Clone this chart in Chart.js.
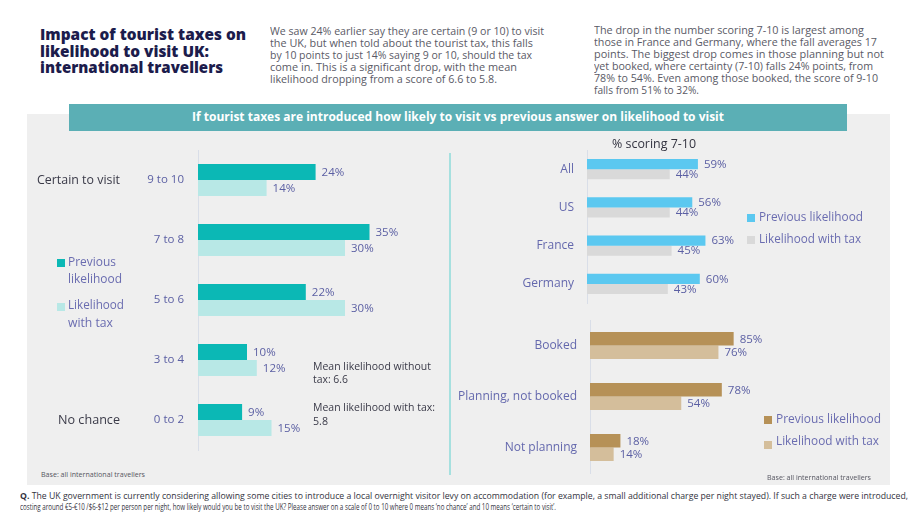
<!DOCTYPE html>
<html><head><meta charset="utf-8">
<script src="https://cdn.jsdelivr.net/npm/chart.js@4.4.1/dist/chart.umd.min.js"></script>
<style>
html,body{margin:0;padding:0;background:#fff;}
#page{position:relative;width:920px;height:518px;overflow:hidden;background:#fff;font-family:'Open Sans',sans-serif;}
.abs{position:absolute;}
.ln{position:absolute;white-space:nowrap;transform-origin:0 50%;}
canvas{position:absolute;}
</style></head><body><div id="page">
<div class="abs" style="left:27px;top:114px;width:863px;height:371px;background:#efefef"></div>
<div class="abs" style="left:69px;top:104px;width:778px;height:27px;background:#5BAFB5"></div>
<div class="abs" style="left:449px;top:153px;width:2px;height:322px;background:#A6E0DF"></div>
<div class="abs" style="left:57px;top:259px;width:8px;height:8px;background:#0BB8B5"></div>
<div class="abs" style="left:57px;top:303px;width:8px;height:8px;background:#B8E8E6"></div>
<div class="abs" style="left:747px;top:214px;width:8px;height:8px;background:#5BC8F0"></div>
<div class="abs" style="left:747px;top:236px;width:8px;height:8px;background:#D9D9D9"></div>
<div class="abs" style="left:764px;top:416px;width:8px;height:8px;background:#B69157"></div>
<div class="abs" style="left:764px;top:441px;width:8px;height:8px;background:#D4BE9B"></div>
<canvas id="c1" width="350" height="320" style="left:100px;top:140px"></canvas>
<canvas id="c2" width="400" height="170" style="left:450px;top:140px"></canvas>
<canvas id="c3" width="400" height="175" style="left:450px;top:310px"></canvas>
</div>
<script>
// ---- data ----
const scoreCats = ['9 to 10', '7 to 8', '5 to 6', '3 to 4', '0 to 2'];
const scorePrev = [24, 35, 22, 10, 9];
const scoreTax = [14, 30, 30, 12, 15];
const countryCats = ['All', 'US', 'France', 'Germany'];
const countryPrev = [59, 56, 63, 60];
const countryTax = [44, 44, 45, 43];
const stageCats = ['Booked', 'Planning, not booked', 'Not planning'];
const stagePrev = [85, 78, 18];
const stageTax = [76, 54, 14];
const seriesNames = ['Previous likelihood', 'Likelihood with tax'];

// ---- text ----
const page = document.getElementById('page');
function L(html, x, cy, w, fs, weight, color, family) {
  const d = document.createElement('div');
  d.className = 'ln';
  const lh = Math.round(fs * 1.25);
  d.style.cssText += `left:${x}px;top:${cy - lh / 2 - fs * 0.1}px;font-size:${fs}px;line-height:${lh}px;font-weight:${weight};color:${color};font-family:${family || "'Open Sans',sans-serif"};`;
  d.innerHTML = html;
  page.appendChild(d);
  if (w) {
    const r = d.getBoundingClientRect().width;
    d.style.transform = `scaleX(${w / r})`;
  }
  return d;
}
const NAVY = '#1C1C4C', PARA = '#5a5a66', LAB = '#5B5FA3', DARK = '#3a3a48';
L('Impact of tourist taxes on', 40, 35.5, 206, 16.5, 800, NAVY);
L('likelihood to visit UK:', 40, 52, 169, 16.5, 800, NAVY);
L('international travellers', 40, 68, 183, 16.5, 800, NAVY);

const p1 = ['We saw 24% earlier say they are certain (9 or 10) to visit',
  'the UK, but when told about the tourist tax, this falls',
  'by 10 points to just 14% saying 9 or 10, should the tax',
  'come in. This is a significant drop, with the mean',
  'likelihood dropping from a score of 6.6 to 5.8.'];
const p1w = [274, 263, 262, 247, 227];
p1.forEach((t, i) => L(t, 270, 32.5 + i * 12, p1w[i], 10.5, 400, PARA));
const p2 = ['The drop in the number scoring 7-10 is largest among',
  'those in France and Germany, where the fall averages 17',
  'points. The biggest drop comes in those planning but not',
  'yet booked, where certainty (7-10) falls 24% points, from',
  '78% to 54%. Even among those booked, the score of 9-10',
  'falls from 51% to 32%.'];
const p2w = [270, 283, 290, 279, 284, 105];
p2.forEach((t, i) => L(t, 594, 31.5 + i * 12, p2w[i], 10.5, 400, PARA));

L('If tourist taxes are introduced how likely to visit vs previous answer on likelihood to visit', 192, 117.5, 532, 12, 700, '#ffffff');
L('% scoring 7-10', 612, 145, 84, 12, 400, '#333340');

L('Certain to visit', 37, 181.5, 83, 12.5, 400, DARK);
L('No chance', 58, 421.5, 62, 12.5, 400, DARK);
L('Previous', 68, 263, 48, 12.5, 400, '#6A6CB0');
L('likelihood', 68, 280, 54, 12.5, 400, '#6A6CB0');
L('Likelihood', 68, 306, 56, 12.5, 400, '#6A6CB0');
L('with tax', 68, 324, 45, 12.5, 400, '#6A6CB0');

L('Mean likelihood without', 313, 367, 118, 11, 400, DARK);
L('tax: 6.6', 313, 380.5, 35, 11, 400, DARK);
L('Mean likelihood with tax:', 313, 408, 122, 11, 400, DARK);
L('5.8', 313, 422, 15, 11, 400, DARK);

L(seriesNames[0], 759, 217.5, 104, 12, 400, '#6A6CB0');
L(seriesNames[1], 759, 239.5, 102, 12, 400, '#6A6CB0');
L(seriesNames[0], 776, 419.5, 105, 12, 400, '#6A6CB0');
L(seriesNames[1], 776, 442, 103, 12, 400, '#6A6CB0');

L('Base: all international travellers', 41, 475, 104, 7, 400, '#555560');
L('Base: all international travellers', 767, 478, 104, 7, 400, '#555560');

L('<b>Q.</b> The UK government is currently considering allowing some cities to introduce a local overnight visitor levy on accommodation (for example, a small additional charge per night stayed). If such a charge were introduced,', 20, 496, 888, 8.5, 400, '#333340');
L('costing around €5-€10 /$6-$12 per person per night, how likely would you be to visit the UK? Please answer on a scale of 0 to 10 where 0 means ‘no chance’ and 10 means ‘certain to visit’.', 20, 507.5, 536, 8.5, 400, '#333340');

// ---- charts ----
const valueLabels = {
  id: 'valueLabels',
  afterDatasetsDraw(chart, args, o) {
    const ctx = chart.ctx;
    ctx.save();
    ctx.font = o.font;
    ctx.fillStyle = o.color;
    ctx.textBaseline = 'middle';
    ctx.textAlign = 'left';
    chart.data.datasets.forEach((ds, i) => {
      chart.getDatasetMeta(i).data.forEach((el, j) => {
        ctx.fillText(ds.data[j] + '%', el.x + o.offset, el.y + 0.5);
      });
    });
    ctx.restore();
  }
};

function mk(id, cats, prev, tax, colors, max, yWidth, pad, tickPad, tickFont, tickColor, catPct, labFont) {
  return new Chart(document.getElementById(id), {
    type: 'bar',
    data: {
      labels: cats,
      datasets: [
        { label: seriesNames[0], data: prev, backgroundColor: colors[0], borderWidth: 0 },
        { label: seriesNames[1], data: tax, backgroundColor: colors[1], borderWidth: 0 }
      ]
    },
    plugins: [valueLabels],
    options: {
      indexAxis: 'y',
      responsive: false,
      animation: false,
      devicePixelRatio: 1,
      layout: { padding: pad },
      datasets: { bar: { categoryPercentage: catPct, barPercentage: 1 } },
      scales: {
        x: { display: false, min: 0, max: max },
        y: {
          afterFit: s => { s.width = yWidth; s.paddingTop = 0; s.paddingBottom = 0; s.paddingLeft = 0; s.paddingRight = 0; },
          grid: { display: false, drawTicks: false },
          border: { display: true, color: '#d9dee8', width: 1 },
          ticks: { padding: tickPad, color: tickColor, font: tickFont, crossAlign: 'near' }
        }
      },
      plugins: {
        legend: { display: false },
        tooltip: { enabled: false },
        valueLabels: { font: labFont, color: LAB, offset: 6 }
      }
    }
  });
}

mk('c1', scoreCats, scorePrev, scoreTax, ['#0BB8B5', '#B8E8E6'], 50, 98,
  { left: 0, right: 7, top: 10, bottom: 10 }, 14,
  { family: "'Open Sans'", size: 11.5 }, '#5B5FA3', 0.533, "11.5px 'Open Sans'");
mk('c2', countryCats, countryPrev, countryTax, ['#5BC8F0', '#D9D9D9'], 100, 137,
  { left: 0, right: 75, top: 10, bottom: 7 }, 13,
  { family: "'Open Sans'", size: 12 }, '#6468AD', 0.523, "11.5px 'Open Sans'");
mk('c3', stageCats, stagePrev, stageTax, ['#B69157', '#D4BE9B'], 100, 140,
  { left: 0, right: 91, top: 10, bottom: 12 }, 13,
  { family: "'Open Sans'", size: 12 }, '#6468AD', 0.53, "11.5px 'Open Sans'");
</script>
</body></html>
